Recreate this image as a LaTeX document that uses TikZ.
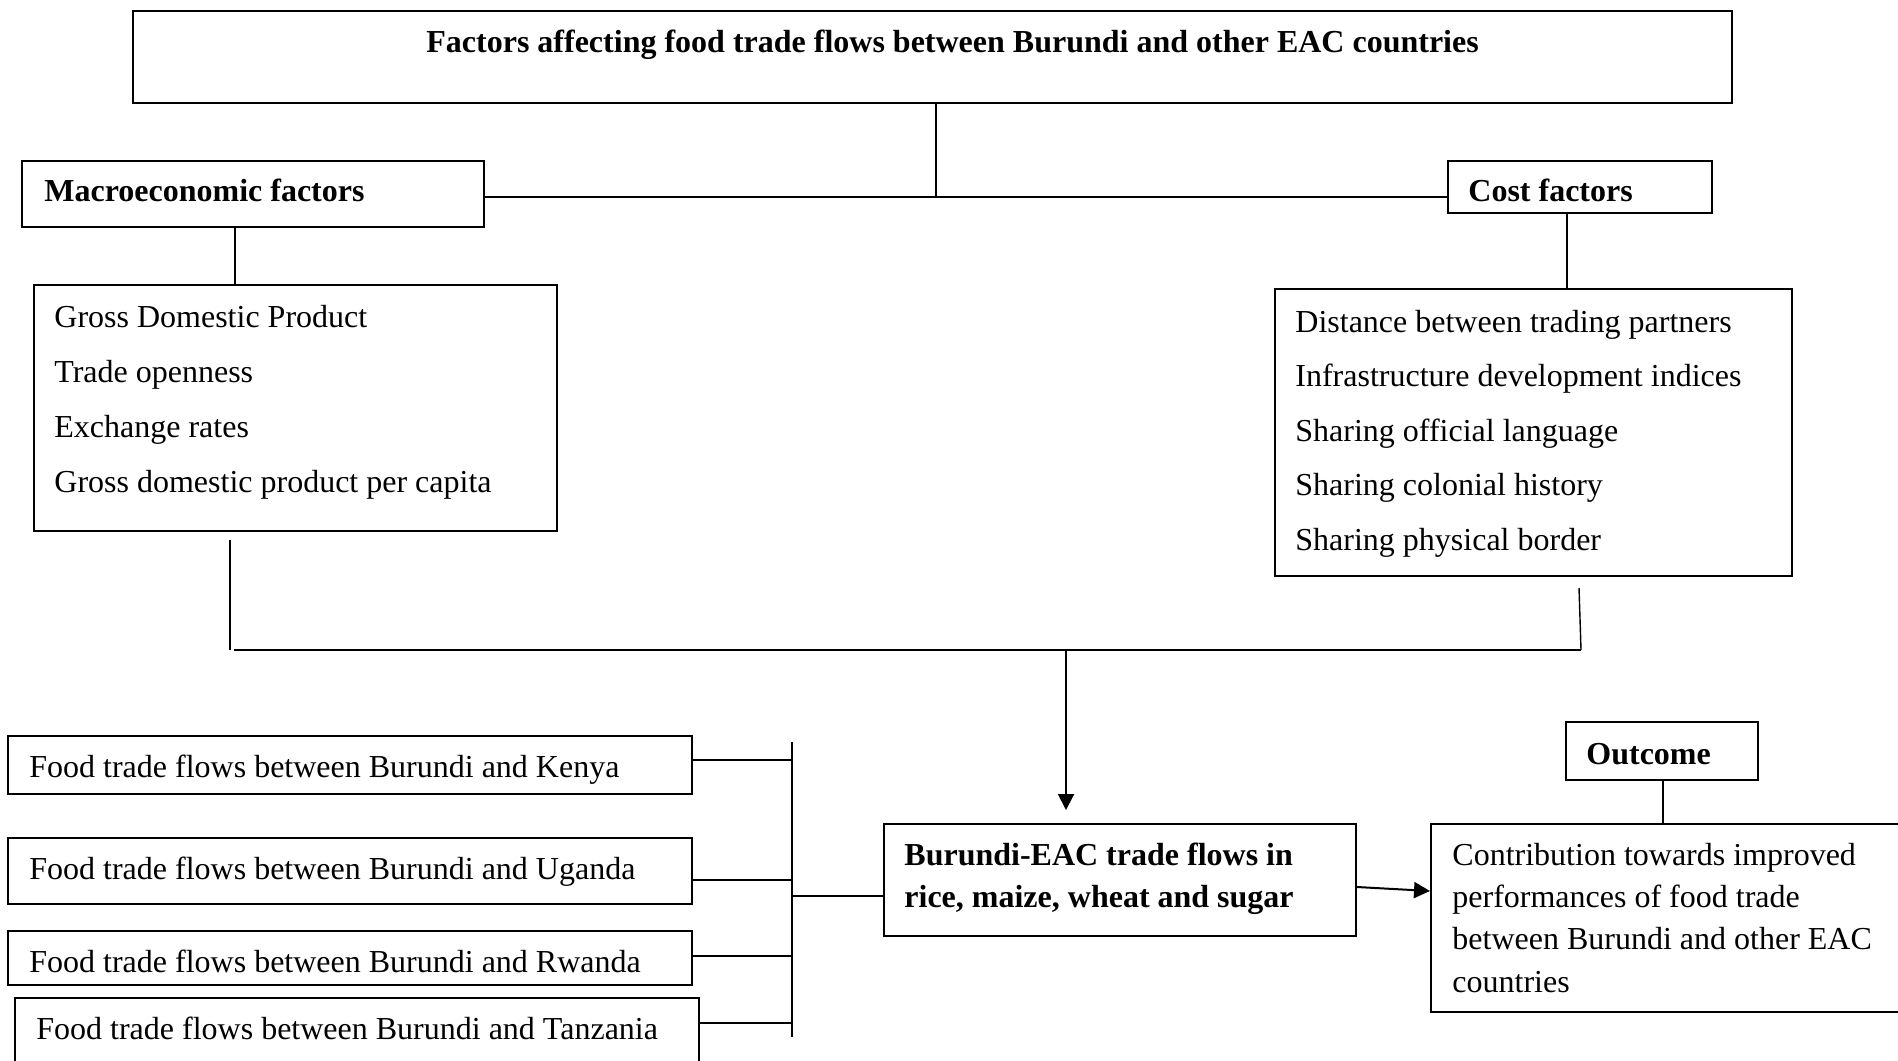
\documentclass[tikz,border=0pt]{standalone}
\usepackage{fontspec}
\setmainfont{Liberation Serif}
\usetikzlibrary{fit,arrows.meta}
\begin{document}
\begin{tikzpicture}[x=0.5pt,y=-0.5pt,
  box/.style={draw,line width=1pt,inner sep=0pt,rectangle},
  conn/.style={draw,line width=0.7pt},
  txt/.style={anchor=base west,inner sep=0pt,font=\fontsize{16}{19}\selectfont},
  btxt/.style={txt,font=\fontsize{16}{19}\selectfont\bfseries},
  arr/.style={draw,line width=1pt,-{Triangle[length=8pt,width=8pt]}}]
\useasboundingbox[fill=white] (0,0) rectangle (1898,1060);
% boxes
\node[box,fit={(133,11) (1732,103)}] (top) {};
\node[box,fit={(22,161) (484,227)}] (macro) {};
\node[box,fit={(1448,161) (1712,213)}] (cost) {};
\node[box,fit={(34,285) (557,531)}] (mlist) {};
\node[box,fit={(1275,289) (1792,576)}] (clist) {};
\node[box,fit={(884,824) (1356,936)}] (center) {};
\node[box,fit={(1566,722) (1758,780)}] (outcome) {};
\node[box,fit={(1431,824) (1910,1012)}] (olist) {};
\node[box,fit={(8,736) (692,794)}] (kenya) {};
\node[box,fit={(8,838) (692,904)}] (uganda) {};
\node[box,fit={(8,931) (692,985)}] (rwanda) {};
\node[box,fit={(15,998) (699,1080)}] (tanzania) {};
% texts
\node[btxt] (ttop) at (426,52) {Factors affecting food trade flows between Burundi and other EAC countries};
\node[btxt] (tmacro) at (44,201) {Macroeconomic factors};
\node[btxt] (tcost) at (1468,201) {Cost factors};
\node[txt] (m1) at (54,327) {Gross Domestic Product};
\node[txt] (m2) at (54,382) {Trade openness};
\node[txt] (m3) at (54,437) {Exchange rates};
\node[txt] (m4) at (54,492) {Gross domestic product per capita};
\node[txt] (c1) at (1295,332) {Distance between trading partners};
\node[txt] (c2) at (1295,386) {Infrastructure development indices};
\node[txt] (c3) at (1295,441) {Sharing official language};
\node[txt] (c4) at (1295,495) {Sharing colonial history};
\node[txt] (c5) at (1295,550) {Sharing physical border};
\node[btxt] (tc1) at (904,865) {Burundi-EAC trade flows in};
\node[btxt] (tc2) at (904,907) {rice, maize, wheat and sugar};
\node[btxt] (tout) at (1586,764) {Outcome};
\node[txt] (o1) at (1452,865) {Contribution towards improved};
\node[txt] (o2) at (1452,907) {performances of food trade};
\node[txt] (o3) at (1452,949) {between Burundi and other EAC};
\node[txt] (o4) at (1452,992) {countries};
\node[txt] (tk) at (29,777) {Food trade flows between Burundi and Kenya};
\node[txt] (tu) at (29,879) {Food trade flows between Burundi and Uganda};
\node[txt] (tr) at (29,972) {Food trade flows between Burundi and Rwanda};
\node[txt] (tt) at (36,1039) {Food trade flows between Burundi and Tanzania};
% junction coordinates
\coordinate (j1) at (936,197);
\coordinate (mv) at (235,0);
\coordinate (cv) at (1567,0);
\coordinate (lb1) at (230,540);
\coordinate (lb2) at (230,650);
\coordinate (rb1) at (1579,588);
\coordinate (rb2) at (1581,650);
\coordinate (jd) at (1066,650);
\coordinate (ad) at (1066,810);
\coordinate (ov) at (1663,0);
\coordinate (bt) at (792,742);
\coordinate (bb) at (792,1037);
\coordinate (bc) at (792,896);
% connectors
\draw[conn] (top.south -| j1) -- (j1);
\draw[conn] (macro.east |- j1) -- (cost.west |- j1);
\draw[conn] (mv |- macro.south) -- (mv |- mlist.north);
\draw[conn] (cv |- cost.south) -- (cv |- clist.north);
\draw[conn] (lb1) -- (lb2);
\draw[conn] (rb1) -- (rb2);
\draw[conn] (234,650) -- (rb2);
\draw[arr] (jd) -- (ad);
\draw[conn] (bt) -- (bb);
\draw[conn] (kenya.east |- 0,760) -- (bt |- 0,760);
\draw[conn] (uganda.east |- 0,880) -- (bt |- 0,880);
\draw[conn] (rwanda.east |- 0,956) -- (bt |- 0,956);
\draw[conn] (tanzania.east |- 0,1023) -- (bt |- 0,1023);
\draw[conn] (bc) -- (center.west |- bc);
\draw[arr] (center.east |- 0,887) -- (olist.west |- 0,891);
\draw[conn] (ov |- outcome.south) -- (ov |- olist.north);
\end{tikzpicture}
\end{document}
